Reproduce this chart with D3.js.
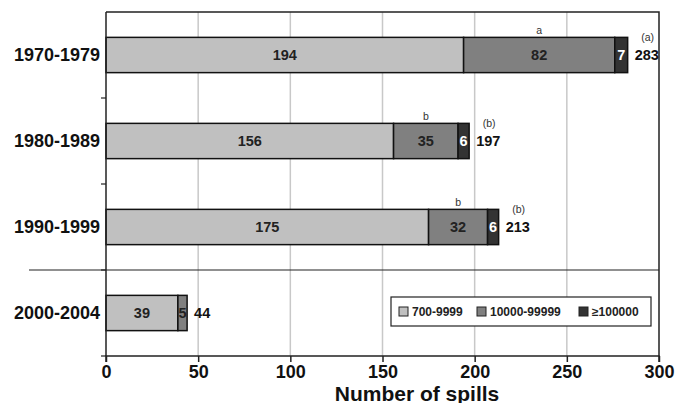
<!DOCTYPE html>
<html>
<head>
<meta charset="utf-8">
<script src="https://cdn.jsdelivr.net/npm/d3@7"></script>
<style>
  html, body { margin: 0; padding: 0; background: #fff; }
  svg { display: block; font-family: "Liberation Sans", Arial, sans-serif; }
</style>
</head>
<body>
<svg id="chart" width="678" height="403"></svg>
<script>
// Oil spills per decade, split by spill size (tonnes)
const periods = ["1970-1979", "1980-1989", "1990-1999", "2000-2004"];
const small = [194, 156, 175, 39];     // 700-9999
const medium = [82, 35, 32, 5];        // 10000-99999
const large = [7, 6, 6, 0];            // >=100000
const totals = [283, 197, 213, 44];
const mediumMarks = ["a", "b", "b", ""];
const totalMarks = ["(a)", "(b)", "(b)", ""];
const sizeClasses = ["700-9999", "10000-99999", "\u2265100000"];
const xTicks = [0, 50, 100, 150, 200, 250, 300];

const colors = ["#c0c0c0", "#808080", "#333333"];
const textColors = ["#222", "#222", "#fff"];

const svg = d3.select("#chart");
const plotLeft = 106, plotRight = 659, plotTop = 12, plotBottom = 356;

const x = d3.scaleLinear().domain([0, 300]).range([plotLeft, plotRight]);
const y = d3.scaleBand().domain(periods).range([plotTop, plotBottom])
  .paddingInner(0.59).paddingOuter(0.295);

// Vertical gridlines
svg.append("g").selectAll("line").data(xTicks.slice(1, -1)).join("line")
  .attr("x1", d => x(d)).attr("x2", d => x(d))
  .attr("y1", plotTop).attr("y2", plotBottom)
  .attr("stroke", "#c8c8c8").attr("stroke-width", 1.5);

// Frame: top and right edges
svg.append("path")
  .attr("d", `M${plotLeft},${plotTop}H${plotRight}V${plotBottom}`)
  .attr("fill", "none").attr("stroke", "#222").attr("stroke-width", 1.5);

// Separator between complete decades and the partial period
const sepY = y("2000-2004") - y.step() * y.paddingInner() / 2;
svg.append("line")
  .attr("x1", 29).attr("x2", plotRight).attr("y1", sepY).attr("y2", sepY)
  .attr("stroke", "#222").attr("stroke-width", 1.2);

// Stacked segments
const rows = periods.map((p, i) => {
  const vals = [small[i], medium[i], large[i]];
  let acc = 0;
  return vals.map((v, k) => {
    const seg = { period: p, k, v, x0: acc, x1: acc + v };
    acc += v;
    return seg;
  }).filter(s => s.v > 0);
});
const segs = rows.flat();

svg.append("g").selectAll("rect").data(segs).join("rect")
  .attr("x", d => x(d.x0)).attr("width", d => x(d.x1) - x(d.x0))
  .attr("y", d => y(d.period)).attr("height", y.bandwidth())
  .attr("fill", d => colors[d.k])
  .attr("stroke", "#111").attr("stroke-width", 1.5);

svg.append("g").selectAll("text").data(segs).join("text")
  .attr("x", d => (x(d.x0) + x(d.x1)) / 2)
  .attr("y", d => y(d.period) + y.bandwidth() / 2)
  .attr("dy", "0.36em").attr("text-anchor", "middle")
  .attr("font-size", 14.5).attr("font-weight", "bold")
  .attr("fill", d => textColors[d.k])
  .text(d => d.v);

// Totals
svg.append("g").selectAll("text").data(periods).join("text")
  .attr("x", (d, i) => x(totals[i]) + 7)
  .attr("y", d => y(d) + y.bandwidth() / 2)
  .attr("dy", "0.36em")
  .attr("font-size", 14.5).attr("font-weight", "bold").attr("fill", "#111")
  .text((d, i) => totals[i]);

// Significance letters above the medium segment
svg.append("g").selectAll("text").data(periods).join("text")
  .attr("x", (d, i) => x(small[i] + medium[i] / 2))
  .attr("y", d => y(d) - 3)
  .attr("text-anchor", "middle").attr("font-size", 10.5).attr("fill", "#333")
  .text((d, i) => mediumMarks[i]);

// Significance letters above the totals
svg.append("g").selectAll("text").data(periods).join("text")
  .attr("x", (d, i) => x(totals[i]) + 20)
  .attr("y", d => y(d) + 4)
  .attr("text-anchor", "middle").attr("font-size", 10.5).attr("fill", "#333")
  .text((d, i) => totalMarks[i]);

// X axis
const xAxis = svg.append("g").attr("transform", `translate(0,${plotBottom})`)
  .call(d3.axisBottom(x).tickValues(xTicks).tickSize(6).tickPadding(3));
xAxis.select(".domain").attr("stroke", "#222").attr("stroke-width", 1.5)
  .attr("d", `M${plotLeft},6V0H${plotRight}V6`);
xAxis.selectAll(".tick line").attr("stroke", "#222").attr("stroke-width", 1.5);
xAxis.selectAll(".tick text").attr("font-size", 18).attr("font-weight", "bold")
  .attr("fill", "#111").attr("font-family", "'Liberation Sans', Arial, sans-serif");

svg.append("text")
  .attr("x", 417).attr("y", 401)
  .attr("text-anchor", "middle").attr("font-size", 21).attr("font-weight", "bold")
  .attr("fill", "#111").text("Number of spills");

// Y axis with ticks at band boundaries
svg.append("line").attr("x1", plotLeft).attr("x2", plotLeft)
  .attr("y1", plotTop).attr("y2", plotBottom)
  .attr("stroke", "#222").attr("stroke-width", 1.5);
const bounds = periods.slice(1).map(p => y(p) - y.step() * y.paddingInner() / 2);
svg.append("g").selectAll("line").data(bounds.concat([plotBottom])).join("line")
  .attr("x1", plotLeft - 5).attr("x2", plotLeft).attr("y1", d => d).attr("y2", d => d)
  .attr("stroke", "#222").attr("stroke-width", 1.2);

svg.append("g").selectAll("text").data(periods).join("text")
  .attr("x", plotLeft - 6).attr("y", d => y(d) + y.bandwidth() / 2)
  .attr("dy", "0.36em").attr("text-anchor", "end")
  .attr("font-size", 18).attr("font-weight", "bold").attr("fill", "#111")
  .text(d => d);

// Legend
const lg = svg.append("g").attr("transform", "translate(391,297)");
lg.append("rect").attr("width", 260).attr("height", 29)
  .attr("fill", "#fff").attr("stroke", "#222").attr("stroke-width", 1.2);
const legendX = [8, 86, 188];
const items = lg.selectAll("g.item").data(sizeClasses).join("g")
  .attr("class", "item")
  .attr("transform", (d, i) => `translate(${legendX[i]},10)`);
items.append("rect").attr("width", 9).attr("height", 9)
  .attr("fill", (d, i) => colors[i]).attr("stroke", "#222").attr("stroke-width", 1);
items.append("text").attr("x", 13).attr("y", 4.5).attr("dy", "0.36em")
  .attr("font-size", 12).attr("font-weight", "bold").attr("fill", "#222")
  .text(d => d);
</script>
</body>
</html>
